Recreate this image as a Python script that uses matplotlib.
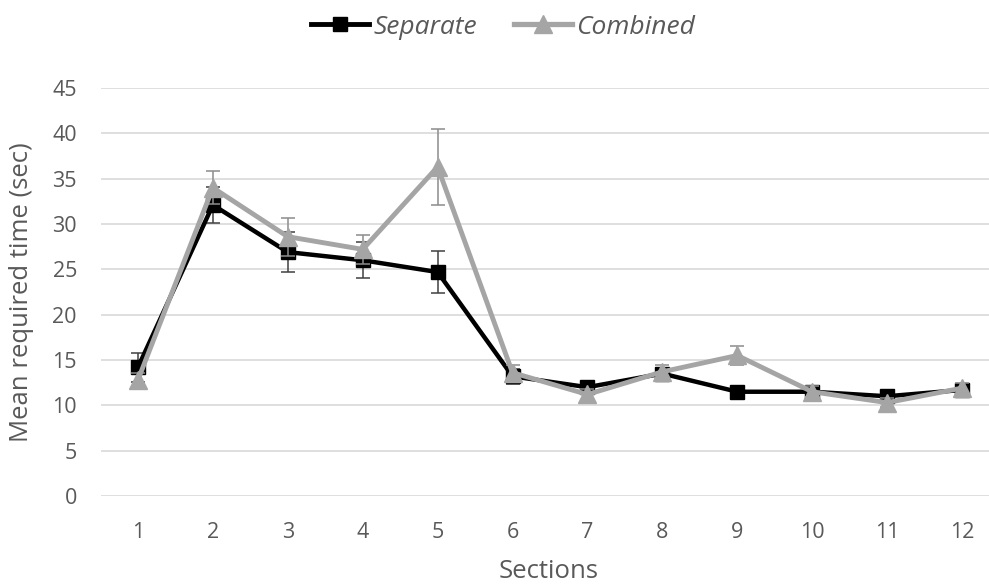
import numpy as np
import matplotlib.pyplot as plt
from matplotlib.lines import Line2D

# values
sections = list(range(1, 13))
separate = [14.2, 32.1, 26.9, 26.0, 24.7, 13.2, 12.0, 13.5, 11.5, 11.5, 11.0, 11.7]
separate_err = [1.6, 2.0, 2.2, 2.0, 2.3, 0.8, 0.6, 0.6, 0.5, 0.5, 0.5, 0.5]
combined = [12.8, 34.0, 28.6, 27.2, 36.3, 13.6, 11.2, 13.7, 15.5, 11.5, 10.3, 11.9]
combined_err = [0.8, 1.8, 2.1, 1.6, 4.2, 0.9, 0.6, 0.7, 1.0, 0.6, 0.5, 0.6]
yticks = list(range(0, 50, 5))

plt.rcParams['font.family'] = ['Open Sans', 'DejaVu Sans']
TXT = "#595959"
GREY = "#A5A5A5"

fig = plt.figure(figsize=(9.89, 5.86), dpi=100)
ax = fig.add_axes([100.5 / 989, 90 / 586, (989 - 100.5) / 989, 408 / 586])

ax.errorbar(sections, separate, yerr=separate_err, color="black", lw=3.2,
            marker="s", markersize=10, ecolor="#404040", elinewidth=1.1,
            capsize=5, capthick=1.1, zorder=3)
ax.errorbar(sections, combined, yerr=combined_err, color=GREY, lw=3.5,
            marker="^", markersize=13, ecolor="#8c8c8c", elinewidth=1.1,
            capsize=5, capthick=1.1, zorder=4)

ax.set_xlim(0.5, 12 + (989 - 962) / 74.9)
ax.set_ylim(0, 45)
ax.set_xticks(sections)
ax.set_yticks(yticks)
ax.tick_params(length=0, labelsize=15.5, labelcolor=TXT)
ax.tick_params(axis="x", pad=19)
ax.tick_params(axis="y", pad=17)
ax.grid(axis="y", color="#d9d9d9", lw=1.2, zorder=0)
ax.set_axisbelow(True)
for s in ax.spines.values():
    s.set_visible(False)

fig.text(22 / 989, (586 - 292) / 586, "Mean required time (sec)", rotation=90,
         ha="center", va="center", fontsize=18.5, color=TXT)
fig.text(549 / 989, (586 - 572) / 586, "Sections", ha="center", va="center",
         fontsize=18.5, color=TXT)

handles = [Line2D([], [], color="black", lw=3.5, marker="s", markersize=10),
           Line2D([], [], color=GREY, lw=3.8, marker="^", markersize=13)]
leg = fig.legend(handles, ["Separate", "Combined"], loc="center",
                 bbox_to_anchor=(503 / 989, (586 - 27) / 586), ncol=2,
                 frameon=False, handlelength=2.2, handletextpad=0.15,
                 columnspacing=1.4, prop={"size": 19, "style": "italic"})
for t in leg.get_texts():
    t.set_color(TXT)

fig.savefig("out.png", dpi=100)
